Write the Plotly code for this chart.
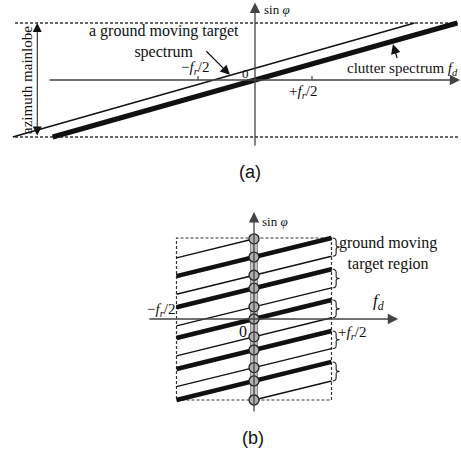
import plotly.graph_objects as go

# ---------------- data (diagram units: f_r/2 = 1, mainlobe edge sin(phi) = 1) -------------
# panel (a)
clutter_fd = [-3.55, 3.55]
clutter_sin = [-1.0, 1.0]
target_fd = [-4.25, 2.80]
target_sin = [-1.0, 1.0]
mainlobe_fd = [-4.21, 3.56]          # extent of the dashed mainlobe limits
mainlobe_sin = [-1.0, 1.0]
a_fd_axis = [-3.63, 3.60]
a_sin_axis = [-1.18, 1.36]
a_ticks = [-1.0, 1.0]

# panel (b)
b_slope = 0.235
b_clutter_c = [-0.765, -0.383, 0.0, 0.38, 0.765]          # thick aliased clutter lines
b_target_c = [-1.0, -0.60, -0.22, 0.15, 0.54, 0.99]        # thin target lines
b_fd_axis = [-1.37, 1.86]
b_sin_axis = [-1.16, 1.32]

SERIF = "Liberation Serif, Times New Roman, serif"
SANS = "Liberation Sans, Arial, sans-serif"
INK = "#111111"
AXC = "#444444"

W, H = 461, 457
split = 200  # pixel row separating the panels

fig = go.Figure()

# ---------------- panel (a) ----------------
for ys in mainlobe_sin:
    fig.add_trace(go.Scatter(x=mainlobe_fd, y=[ys, ys], mode="lines",
                             line=dict(color="#333", width=1.3, dash="3px,2px"),
                             xaxis="x", yaxis="y", hoverinfo="skip", showlegend=False))
fig.add_trace(go.Scatter(x=target_fd, y=target_sin, mode="lines",
                         line=dict(color=INK, width=1.4), xaxis="x", yaxis="y",
                         hoverinfo="skip", showlegend=False))
fig.add_trace(go.Scatter(x=clutter_fd, y=clutter_sin, mode="lines",
                         line=dict(color=INK, width=5), xaxis="x", yaxis="y",
                         hoverinfo="skip", showlegend=False))
for t in a_ticks:
    fig.add_trace(go.Scatter(x=[t, t], y=[0, 0.07], mode="lines",
                             line=dict(color=AXC, width=1.2), xaxis="x", yaxis="y",
                             hoverinfo="skip", showlegend=False))

# ---------------- panel (b) ----------------
fig.add_trace(go.Scatter(x=[-1, 1, 1, -1, -1], y=[-1, -1, 1, 1, -1], mode="lines",
                         line=dict(color="#333", width=1.2, dash="3px,2px"),
                         xaxis="x2", yaxis="y2", hoverinfo="skip", showlegend=False))


def clipped(c):
    x_lo = max(-1.0, (-1.0 - c) / b_slope)
    x_hi = min(1.0, (1.0 - c) / b_slope)
    return [x_lo, x_hi], [c + b_slope * x_lo, c + b_slope * x_hi]


for c in b_target_c:
    xs, ys = clipped(c)
    fig.add_trace(go.Scatter(x=xs, y=ys, mode="lines", line=dict(color=INK, width=1.4),
                             xaxis="x2", yaxis="y2", hoverinfo="skip", showlegend=False))
for c in b_clutter_c:
    xs, ys = clipped(c)
    fig.add_trace(go.Scatter(x=xs, y=ys, mode="lines", line=dict(color=INK, width=4.5),
                             xaxis="x2", yaxis="y2", hoverinfo="skip", showlegend=False))

# gray column along the sin(phi) axis inside the box
col_w = 0.045
fig.add_trace(go.Scatter(x=[-col_w, col_w, col_w, -col_w, -col_w], y=[-1, -1, 1, 1, -1],
                         mode="lines", fill="toself", fillcolor="#c4c4c4",
                         line=dict(color="#777", width=0.8),
                         xaxis="x2", yaxis="y2", hoverinfo="skip", showlegend=False))
cross = sorted(b_clutter_c + b_target_c)
fig.add_trace(go.Scatter(x=[0] * len(cross), y=cross, mode="markers",
                         marker=dict(size=10, color="#b0b0b0", line=dict(color="#222", width=1.3)),
                         xaxis="x2", yaxis="y2", hoverinfo="skip", showlegend=False))

# braces on the right edge: from each thick line down to the thin line below it
right_thick = sorted([c + b_slope for c in b_clutter_c], reverse=True)
right_thin = sorted([c + b_slope for c in b_target_c if c + b_slope < 1], reverse=True)
bx0, bw = 1.015, 0.09
for ya in right_thick:
    below = [v for v in right_thin if v < ya]
    if not below:
        continue
    yb = max(below)
    mid, h = (ya + yb) / 2, ya - yb
    xm = bx0 + bw * 0.5
    p = (f"M {bx0},{ya} Q {xm},{ya} {xm},{ya - h * 0.18} "
         f"L {xm},{mid + h * 0.1} Q {xm},{mid} {bx0 + bw},{mid} "
         f"Q {xm},{mid} {xm},{mid - h * 0.1} L {xm},{yb + h * 0.18} "
         f"Q {xm},{yb} {bx0},{yb}")
    fig.add_shape(type="path", path=p, xref="x2", yref="y2",
                  line=dict(color="#222", width=1.1))

# ---------------- arrows (axes and pointers) ----------------
ann = []


def arrow(xr, yr, x, y, ax, ay, width=1.3, size=1.6, color=AXC, side="end"):
    ann.append(dict(xref=xr, yref=yr, axref=xr, ayref=yr, x=x, y=y, ax=ax, ay=ay,
                    text="", showarrow=True, arrowhead=2, arrowsize=size,
                    arrowwidth=width, arrowcolor=color, arrowside=side,
                    standoff=0, startstandoff=0))


# panel (a) axes
arrow("x", "y", a_fd_axis[1], 0, a_fd_axis[0], 0)
arrow("x", "y", 0, a_sin_axis[1], 0, a_sin_axis[0])
# azimuth mainlobe double arrow
arrow("x", "y", -3.82, mainlobe_sin[1], -3.82, mainlobe_sin[0], width=1.0, size=1.8,
      color=INK, side="end+start")
# pointers
arrow("x", "y", -0.44, 0.09, -0.88, 0.53, width=1.2, size=1.6, color=INK)
arrow("x", "y", 2.42, 0.63, 2.50, 0.36, width=1.2, size=1.6, color=INK)
# panel (b) axes
arrow("x2", "y2", b_fd_axis[1], 0, b_fd_axis[0], 0)
arrow("x2", "y2", 0, b_sin_axis[1], 0, b_sin_axis[0])


def label(xr, yr, x, y, text, size=13, font=SERIF, xanchor="center", angle=0):
    ann.append(dict(xref=xr, yref=yr, x=x, y=y, text=text, showarrow=False,
                    xanchor=xanchor, yanchor="middle", textangle=angle,
                    font=dict(family=font, size=size, color=INK)))


# panel (a) labels
label("x", "y", 0.12, 1.23, "sin <i>φ</i>", size=13, xanchor="left")
label("x", "y", -1.6, 0.68, "a ground moving target<br>spectrum", size=16)
label("x", "y", 1.58, 0.2, "clutter spectrum <i>f<sub>d</sub></i>", size=15, xanchor="left")
label("x", "y", -1.05, 0.21, "−<i>f<sub>r</sub></i>/2", size=15)
label("x", "y", 0.84, -0.21, "+<i>f<sub>r</sub></i>/2", size=15)
label("x", "y", -0.17, 0.12, "0", size=13)
label("x", "y", -4.0, 0.0, "azimuth mainlobe", size=15, angle=-90)
label("x", "y", -0.09, -1.61, "(a)", size=18, font=SANS)

# panel (b) labels
label("x2", "y2", 0.08, 1.2, "sin <i>φ</i>", size=13, xanchor="left")
label("x2", "y2", 1.73, 0.81, "ground moving<br>target region", size=16)
label("x2", "y2", 1.6, 0.21, "<i>f<sub>d</sub></i>", size=17)
label("x2", "y2", 1.26, -0.17, "+<i>f<sub>r</sub></i>/2", size=15)
label("x2", "y2", -1.2, 0.11, "−<i>f<sub>r</sub></i>/2", size=15)
label("x2", "y2", -0.14, -0.16, "0", size=16)
label("x2", "y2", -0.01, -1.47, "(b)", size=18, font=SANS)

# ---------------- axes mapping (unit scale chosen from the picture) ----------------
ax_a_unit, org_a = 57.0, (255.0, 80.0)
ax_bx_unit, ax_by_unit, org_b = 77.5, 81.0, (254.0, 319.0)

noax = dict(visible=False, showgrid=False, zeroline=False, fixedrange=True)
fig.update_layout(
    width=W, height=H, autosize=False,
    margin=dict(l=0, r=0, t=0, b=0),
    paper_bgcolor="white", plot_bgcolor="white",
    showlegend=False,
    annotations=ann,
    xaxis=dict(noax, domain=[0, 1], anchor="y",
               range=[(0 - org_a[0]) / ax_a_unit, (W - org_a[0]) / ax_a_unit]),
    yaxis=dict(noax, domain=[1 - split / H, 1], anchor="x",
               range=[(org_a[1] - split) / ax_a_unit, org_a[1] / ax_a_unit]),
    xaxis2=dict(noax, domain=[0, 1], anchor="y2",
                range=[(0 - org_b[0]) / ax_bx_unit, (W - org_b[0]) / ax_bx_unit]),
    yaxis2=dict(noax, domain=[0, 1 - split / H], anchor="x2",
                range=[(org_b[1] - H) / ax_by_unit, (org_b[1] - split) / ax_by_unit]),
)

fig.write_html("out.html", config={"displayModeBar": False, "staticPlot": True},
               post_script="document.body.style.margin='0px';")
